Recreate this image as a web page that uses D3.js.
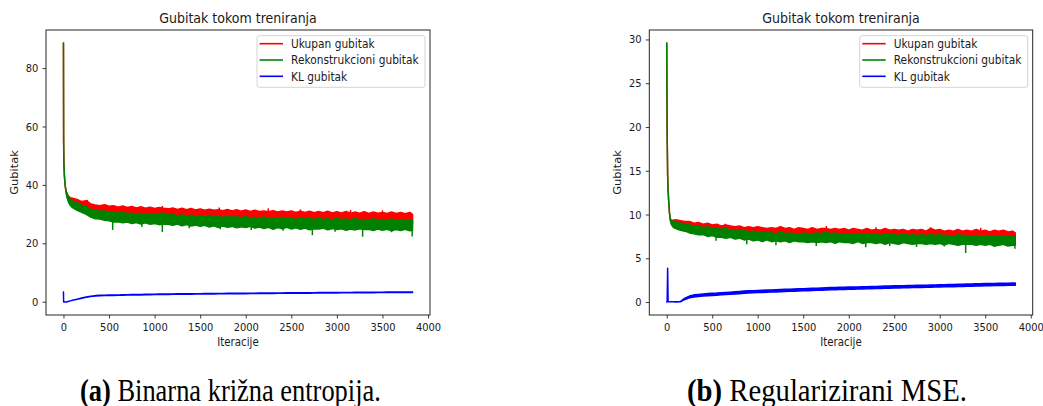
<!DOCTYPE html>
<html><head><meta charset="utf-8">
<script src="https://cdn.jsdelivr.net/npm/d3@7"></script>
<style>html,body{margin:0;padding:0;background:#fff}svg{display:block}</style>
</head><body><svg id="c" width="1043" height="406"></svg>
<script>
// ---------- DATA ----------
const iterations = [
 0, 2, 5, 10, 15, 20, 30, 40, 50, 60, 75,
 100, 150, 200, 250, 300, 350, 400, 450, 500, 550,
 600, 650, 700, 750, 800, 850, 900, 950, 1000, 1050,
 1100, 1150, 1200, 1250, 1300, 1350, 1400, 1450, 1500, 1550,
 1600, 1650, 1700, 1750, 1800, 1850, 1900, 1950, 2000, 2050,
 2100, 2150, 2200, 2250, 2300, 2350, 2400, 2450, 2500, 2550,
 2600, 2650, 2700, 2750, 2800, 2850, 2900, 2950, 3000, 3050,
 3100, 3150, 3200, 3250, 3300, 3350, 3400, 3450, 3500, 3550,
 3600, 3650, 3700, 3750, 3800, 3830
];
const xTicks = [0, 500, 1000, 1500, 2000, 2500, 3000, 3500, 4000];
const bceYTicks = [0, 20, 40, 60, 80];
const mseYTicks = [0, 5, 10, 15, 20, 25, 30];
const seriesNames = ["Ukupan gubitak", "Rekonstrukcioni gubitak", "KL gubitak"];
const chartTitle = "Gubitak tokom treniranja";
const xLabel = "Iteracije";
const yLabel = "Gubitak";
const captions = [["(a)", " Binarna križna entropija."], ["(b)", " Regularizirani MSE."]];

// (a) binary cross-entropy: per-window max / min of each noisy series
const bceTotalMax = [
 88.6, 55, 47.5, 43.5, 41, 39.5, 37.8, 37.0, 36.4, 36.0, 35.6,
 35.4, 35.0, 34.3, 34.6, 33.5, 33.1, 32.9, 33.2, 32.7, 32.9,
 32.4, 32.8, 32.3, 32.6, 32.1, 32.5, 32.0, 32.4, 31.9, 32.3,
 32.0, 31.8, 32.1, 31.6, 32.0, 31.5, 31.9, 31.4, 31.8, 31.3,
 31.7, 31.3, 31.5, 31.2, 31.6, 31.1, 31.5, 31.0, 31.4, 30.9,
 31.3, 30.9, 31.1, 30.8, 31.2, 30.7, 31.1, 30.7, 31.1, 30.6,
 31.0, 30.6, 31.0, 30.5, 30.9, 30.5, 31.0, 30.4, 30.8, 30.4,
 30.9, 30.3, 30.7, 30.3, 30.8, 30.2, 30.7, 30.3, 30.6, 30.2,
 30.7, 30.2, 30.6, 30.1, 30.6, 29.9
];
const bceTotalMin = [
 88.6, 55, 47.5, 43.5, 41, 39.5, 37.5, 36.0, 35.2, 34.6, 34.0,
 33.5, 33.0, 32.3, 31.8, 31.0, 30.6, 30.4, 30.2, 30.0, 29.9,
 29.8, 29.7, 29.6, 29.5, 29.4, 29.4, 29.3, 29.2, 29.2, 29.1,
 29.0, 29.0, 28.9, 28.8, 28.8, 28.7, 28.7, 28.6, 28.6, 28.5,
 28.5, 28.4, 28.4, 28.3, 28.3, 28.2, 28.2, 28.1, 28.1, 28.0,
 28.0, 27.9, 27.9, 27.8, 27.8, 27.7, 27.7, 27.7, 27.6, 27.6,
 27.6, 27.5, 27.5, 27.4, 27.4, 27.4, 27.3, 27.3, 27.3, 27.2,
 27.2, 27.2, 27.1, 27.1, 27.1, 27.0, 27.0, 27.0, 26.9, 26.9,
 26.9, 26.8, 26.8, 26.8, 26.7, 26.7
];
const bceReconMax = [
 88.6, 55, 47.5, 43.5, 41, 39.5, 37.8, 36.8, 36.2, 35.6, 35.0,
 34.4, 33.9, 33.0, 32.6, 31.6, 31.4, 30.9, 31.2, 30.5, 30.7,
 30.3, 30.8, 30.1, 30.4, 29.9, 30.3, 29.8, 30.2, 29.7, 30.1,
 30.4, 29.6, 29.9, 29.4, 29.8, 29.3, 29.6, 29.2, 29.5, 29.1,
 29.6, 29.0, 29.3, 28.8, 29.4, 28.9, 29.1, 28.7, 29.2, 28.6,
 28.9, 28.5, 29.0, 28.4, 28.8, 28.3, 28.9, 28.4, 28.6, 28.2,
 28.7, 28.3, 28.5, 28.1, 28.7, 28.2, 28.4, 28.0, 28.6, 28.1,
 28.3, 27.9, 28.5, 28.0, 28.2, 27.8, 28.4, 27.9, 28.2, 27.8,
 28.3, 27.9, 28.1, 27.7, 28.2, 27.9
];
const bceReconMin = [
 88.6, 55, 47.5, 43.5, 41, 39.5, 37.2, 35.6, 34.6, 33.8, 33.0,
 32.2, 31.3, 30.6, 29.9, 29.0, 28.4, 28.3, 27.9, 27.7, 27.3,
 27.4, 27.0, 27.3, 26.8, 27.1, 26.6, 27.0, 26.5, 26.8, 26.4,
 26.6, 26.5, 26.2, 26.6, 26.0, 26.4, 25.9, 26.3, 25.8, 26.2,
 25.6, 26.0, 25.4, 25.9, 25.5, 25.8, 25.3, 25.7, 25.4, 25.8,
 25.2, 25.6, 25.1, 25.5, 24.8, 25.4, 25.0, 25.5, 24.9, 25.3,
 24.8, 25.2, 24.6, 25.0, 24.9, 25.2, 24.6, 25.1, 24.7, 25.0,
 24.5, 24.9, 24.6, 25.0, 24.7, 24.8, 24.4, 24.9, 24.5, 24.8,
 24.3, 24.7, 24.4, 24.8, 24.3, 24.5
];
// isolated single-iteration spikes: [iteration, value]
const bceTotalSpikes = [[262, 34.9], [1085, 32.8], [1709, 32.3], [2247, 32.0], [2600, 31.6], [3150, 31.4], [3500, 31.3]];
const bceReconSpikes = [[540, 24.6], [860, 25.6], [1085, 23.9], [1380, 25.2], [1720, 24.8], [2060, 24.6],
  [2410, 24.3], [2731, 22.8], [2980, 24.0], [3282, 22.3], [3600, 23.8], [3826, 22.3]];
const bceKlMax = [
 3.3, -0.1, -0.1, -0.1, -0.1, -0.1, -0.1, 0.0, 0.05, 0.15, 0.3,
 0.55, 0.9, 1.25, 1.6, 1.9, 2.1, 2.2, 2.25, 2.3, 2.33,
 2.35, 2.4, 2.42, 2.45, 2.5, 2.5, 2.55, 2.57, 2.6, 2.62,
 2.65, 2.65, 2.68, 2.7, 2.72, 2.73, 2.75, 2.77, 2.78, 2.8,
 2.81, 2.83, 2.85, 2.86, 2.87, 2.89, 2.9, 2.91, 2.93, 2.95,
 2.95, 2.97, 2.98, 3.0, 3.01, 3.02, 3.03, 3.05, 3.05, 3.07,
 3.08, 3.1, 3.1, 3.12, 3.13, 3.15, 3.15, 3.17, 3.18, 3.19,
 3.2, 3.21, 3.22, 3.23, 3.25, 3.25, 3.27, 3.28, 3.29, 3.3,
 3.31, 3.32, 3.33, 3.35, 3.35, 3.35
];
const bceKlMin = [
 3.3, -0.1, -0.1, -0.1, -0.1, -0.1, -0.1, 0.0, 0.05, 0.15, 0.3,
 0.5, 0.85, 1.2, 1.5, 1.8, 2.0, 2.08, 2.12, 2.15, 2.18,
 2.2, 2.25, 2.27, 2.3, 2.34, 2.35, 2.4, 2.42, 2.45, 2.47,
 2.5, 2.5, 2.53, 2.55, 2.57, 2.58, 2.6, 2.62, 2.63, 2.65,
 2.66, 2.68, 2.7, 2.71, 2.72, 2.74, 2.75, 2.76, 2.78, 2.8,
 2.8, 2.82, 2.83, 2.85, 2.86, 2.87, 2.88, 2.9, 2.9, 2.92,
 2.93, 2.95, 2.95, 2.97, 2.98, 3.0, 3.0, 3.02, 3.03, 3.04,
 3.05, 3.06, 3.07, 3.08, 3.1, 3.1, 3.12, 3.13, 3.14, 3.15,
 3.16, 3.17, 3.18, 3.2, 3.2, 3.2
];

// (b) regularised MSE
const mseTotalMax = [
 29.6, 25.0, 19.0, 14.5, 12.8, 11.8, 10.2, 9.5, 9.35, 9.35, 9.35,
 9.4, 9.3, 9.2, 9.2, 9.0, 9.1, 8.9, 9.0, 8.8, 8.9,
 8.7, 8.8, 8.7, 8.6, 8.7, 8.5, 8.6, 8.5, 8.6, 8.5,
 8.4, 8.5, 8.4, 8.6, 8.4, 8.5, 8.3, 8.5, 8.4, 8.3,
 8.5, 8.3, 8.4, 8.4, 8.3, 8.4, 8.3, 8.4, 8.2, 8.4,
 8.3, 8.2, 8.4, 8.2, 8.3, 8.2, 8.4, 8.2, 8.3, 8.2,
 8.3, 8.1, 8.3, 8.2, 8.3, 8.1, 8.4, 8.2, 8.3, 8.1,
 8.2, 8.1, 8.3, 8.1, 8.2, 8.1, 8.3, 8.1, 8.2, 8.0,
 8.2, 8.1, 8.2, 8.0, 8.1, 7.9
];
const mseTotalMin = [
 29.6, 25.0, 19.0, 14.5, 12.8, 11.8, 10.2, 9.4, 9.0, 8.9, 8.8,
 8.8, 8.6, 8.5, 8.4, 8.3, 8.2, 8.2, 8.1, 8.0, 8.0,
 7.9, 7.9, 7.8, 7.8, 7.7, 7.7, 7.7, 7.6, 7.6, 7.6,
 7.5, 7.5, 7.5, 7.5, 7.4, 7.4, 7.4, 7.4, 7.4, 7.3,
 7.3, 7.3, 7.3, 7.3, 7.2, 7.3, 7.2, 7.2, 7.2, 7.2,
 7.2, 7.2, 7.1, 7.2, 7.1, 7.1, 7.1, 7.1, 7.1, 7.1,
 7.1, 7.0, 7.1, 7.0, 7.1, 7.0, 7.0, 7.0, 7.0, 7.0,
 7.0, 7.0, 6.9, 7.0, 6.9, 6.9, 7.0, 6.9, 6.9, 6.9,
 6.9, 6.9, 6.9, 6.8, 6.9, 6.8
];
const mseReconMax = [
 29.6, 25.0, 19.0, 14.5, 12.8, 11.8, 10.2, 9.5, 9.3, 9.25, 9.2,
 9.2, 9.0, 8.9, 8.8, 8.6, 8.7, 8.5, 8.6, 8.4, 8.5,
 8.3, 8.4, 8.2, 8.3, 8.1, 8.2, 8.0, 8.1, 8.0, 7.9,
 8.0, 7.9, 7.8, 8.0, 7.8, 7.9, 7.8, 7.7, 7.9, 7.8,
 7.8, 7.9, 7.8, 8.0, 7.8, 7.9, 7.7, 7.8, 7.8, 7.7,
 7.8, 7.7, 7.8, 7.7, 7.8, 7.6, 7.8, 7.7, 7.7, 7.6,
 7.8, 7.6, 7.7, 7.6, 7.7, 7.6, 7.7, 7.6, 7.7, 7.6,
 7.6, 7.5, 7.7, 7.6, 7.6, 7.5, 7.6, 7.5, 7.6, 7.5,
 7.6, 7.5, 7.6, 7.5, 7.5, 7.4
];
const mseReconMin = [
 29.6, 25.0, 19.0, 14.5, 12.8, 11.8, 10.2, 9.3, 8.9, 8.7, 8.5,
 8.4, 8.2, 8.1, 7.9, 7.8, 7.7, 7.7, 7.5, 7.6, 7.4,
 7.4, 7.3, 7.4, 7.2, 7.3, 7.1, 7.2, 7.0, 7.1, 6.9,
 7.1, 6.9, 7.0, 6.9, 7.0, 6.8, 7.0, 6.9, 6.9, 6.8,
 6.9, 6.8, 6.9, 6.8, 6.9, 6.7, 6.9, 6.8, 6.8, 6.7,
 6.9, 6.7, 6.8, 6.8, 6.7, 6.8, 6.6, 6.8, 6.7, 6.6,
 6.8, 6.7, 6.6, 6.7, 6.7, 6.6, 6.7, 6.6, 6.7, 6.5,
 6.7, 6.6, 6.5, 6.6, 6.6, 6.6, 6.5, 6.6, 6.5, 6.6,
 6.4, 6.5, 6.6, 6.4, 6.5, 6.5
];
const mseTotalSpikes = [[640, 8.95], [1754, 8.7], [2300, 8.55], [2900, 8.55], [3450, 8.5]];
const mseReconSpikes = [[543, 7.0], [880, 6.6], [1200, 6.5], [1643, 6.4], [2187, 6.25], [2450, 6.4],
  [2745, 6.3], [3050, 6.35], [3285, 5.6], [3600, 6.3], [3826, 6.1]];
const mseKlMax = [
 0.0, 0.02, 0.02, 3.85, 0.02, 0.02, 0.02, 0.02, 0.02, 0.02, 0.02,
 0.03, 0.06, 0.45, 0.68, 0.82, 0.87, 0.93, 0.97, 1.01, 1.03,
 1.07, 1.1, 1.13, 1.17, 1.21, 1.25, 1.28, 1.3, 1.33, 1.35,
 1.37, 1.39, 1.41, 1.43, 1.45, 1.47, 1.49, 1.51, 1.53, 1.55,
 1.57, 1.59, 1.61, 1.63, 1.65, 1.66, 1.68, 1.69, 1.71, 1.72,
 1.73, 1.75, 1.76, 1.77, 1.79, 1.8, 1.82, 1.83, 1.85, 1.86,
 1.87, 1.88, 1.9, 1.91, 1.92, 1.93, 1.95, 1.96, 1.97, 1.99,
 2.0, 2.01, 2.03, 2.04, 2.05, 2.06, 2.08, 2.09, 2.11, 2.12,
 2.13, 2.14, 2.15, 2.16, 2.17, 2.18
];
const mseKlMin = [
 0.0, 0.02, 0.02, 3.85, 0.02, 0.02, 0.02, 0.02, 0.02, 0.02, 0.02,
 0.01, 0.03, 0.3, 0.48, 0.58, 0.62, 0.68, 0.72, 0.76, 0.78,
 0.82, 0.85, 0.88, 0.92, 0.96, 1.0, 1.03, 1.05, 1.08, 1.1,
 1.12, 1.14, 1.16, 1.18, 1.2, 1.22, 1.24, 1.26, 1.28, 1.3,
 1.32, 1.34, 1.36, 1.38, 1.4, 1.41, 1.43, 1.44, 1.46, 1.47,
 1.48, 1.5, 1.51, 1.52, 1.54, 1.55, 1.57, 1.58, 1.6, 1.61,
 1.62, 1.63, 1.65, 1.66, 1.67, 1.68, 1.7, 1.71, 1.72, 1.74,
 1.75, 1.76, 1.78, 1.79, 1.8, 1.81, 1.83, 1.84, 1.86, 1.87,
 1.88, 1.89, 1.9, 1.91, 1.92, 1.93
];

// ---------- RENDER ----------
const W = 1043, H = 406, SX = 0.9;
const FONT = "DejaVu Sans";
const colors = ["#ff0000", "#008000", "#0000ff"];
const svg = d3.select("#c");
svg.append("rect").attr("width", W).attr("height", H).attr("fill", "#fff");

const panels = [
  { id: "a", x0: 46, x1: 430, yTicks: bceYTicks, ylabX: 18.3,
    series: [[bceTotalMax, bceTotalMin], [bceReconMax, bceReconMin], [bceKlMax, bceKlMin]],
    spikes: [bceTotalSpikes, bceReconSpikes, []],
    cap: captions[0], capX0: 80, capX1: 381 },
  { id: "b", x0: 649.3, x1: 1032.7, yTicks: mseYTicks, ylabX: 621.3,
    series: [[mseTotalMax, mseTotalMin], [mseReconMax, mseReconMin], [mseKlMax, mseKlMin]],
    spikes: [mseTotalSpikes, mseReconSpikes, []],
    cap: captions[1], capX0: 687, capX1: 967 }
];
const Y0 = 30, Y1 = 315;
const padExt = ([a, b]) => { const m = (b - a) * 0.05; return [a - m, b + m]; };

function txt(g, x, y, s, o = {}) {
  return g.append("text")
    .attr("transform", `translate(${x},${y}) rotate(${o.rot || 0}) scale(${o.rot ? 1 : SX},${o.rot ? SX : 1})`)
    .attr("font-family", o.family || FONT).attr("font-size", o.size || 11)
    .attr("text-anchor", o.anchor || "middle").attr("fill", o.fill || "#1a1a1a")
    .text(s);
}
// value of a band edge at an arbitrary iteration (for anchoring spikes)
function edgeAt(arr, it) {
  const i = Math.max(1, d3.bisectLeft(iterations, it));
  const a = iterations[i - 1], b = iterations[Math.min(i, iterations.length - 1)];
  const t = b === a ? 0 : (it - a) / (b - a);
  return arr[i - 1] + (arr[Math.min(i, arr.length - 1)] - arr[i - 1]) * t;
}

panels.forEach(p => {
  const g = svg.append("g");
  const x = d3.scaleLinear().domain(padExt(d3.extent(iterations))).range([p.x0, p.x1]);
  const allVals = p.series.flat(2).concat(p.spikes.flat().map(d => d[1]));
  const y = d3.scaleLinear().domain(padExt(d3.extent(allVals))).range([Y1, Y0]);

  const clipId = "clip-" + p.id;
  g.append("clipPath").attr("id", clipId).append("rect")
    .attr("x", p.x0).attr("y", Y0).attr("width", p.x1 - p.x0).attr("height", Y1 - Y0);

  const plot = g.append("g").attr("clip-path", `url(#${clipId})`);
  p.series.forEach(([mx, mn], si) => {
    const rows = iterations.map((it, i) => ({ it, hi: mx[i], lo: mn[i] }));
    const area = d3.area().x(d => x(d.it)).y0(d => y(d.lo)).y1(d => y(d.hi));
    plot.append("path").datum(rows).attr("d", area)
      .attr("fill", colors[si]).attr("stroke", colors[si])
      .attr("stroke-width", 1.5).attr("stroke-linejoin", "round");
    plot.selectAll(null).data(p.spikes[si]).join("line")
      .attr("x1", d => x(d[0])).attr("x2", d => x(d[0]))
      .attr("y1", d => y(d[1] > edgeAt(mx, d[0]) ? edgeAt(mx, d[0]) : edgeAt(mn, d[0])))
      .attr("y2", d => y(d[1]))
      .attr("stroke", colors[si]).attr("stroke-width", 1.5);
  });

  // frame
  g.append("rect").attr("x", p.x0).attr("y", Y0).attr("width", p.x1 - p.x0).attr("height", Y1 - Y0)
    .attr("fill", "none").attr("stroke", "#262626").attr("stroke-width", 1);

  // axes
  const gx = g.append("g").attr("transform", `translate(0,${Y1})`)
    .call(d3.axisBottom(x).tickValues(xTicks).tickSize(3.5).tickPadding(5).tickFormat(d3.format("d")));
  gx.select(".domain").remove();
  gx.selectAll("line").attr("stroke", "#262626").attr("stroke-width", 0.9);
  gx.selectAll("text").attr("font-family", FONT).attr("font-size", 11).attr("fill", "#1a1a1a")
    .attr("transform", `scale(${SX},1)`);

  const gy = g.append("g").attr("transform", `translate(${p.x0},0)`)
    .call(d3.axisLeft(y).tickValues(p.yTicks).tickSize(3.5).tickPadding(4.2).tickFormat(d3.format("d")));
  gy.select(".domain").remove();
  gy.selectAll("line").attr("stroke", "#262626").attr("stroke-width", 0.9);
  gy.selectAll("text").attr("font-family", FONT).attr("font-size", 11).attr("fill", "#1a1a1a")
    .attr("x", -7.7 / SX).attr("transform", `scale(${SX},1)`);

  const cx = (p.x0 + p.x1) / 2;
  txt(g, cx, 23, chartTitle, { size: 14 });
  txt(g, cx, 346, xLabel, { size: 11.4 });
  txt(g, p.ylabX, (Y0 + Y1) / 2, yLabel, { size: 11.4, rot: -90 });

  // legend
  const lw = 168, lh = 51.6;
  const lx = p.x1 - 5 - lw, ly = 35.7;
  const lg = g.append("g");
  lg.append("rect").attr("x", lx).attr("y", ly).attr("width", lw).attr("height", lh)
    .attr("rx", 2.5).attr("fill", "#fff").attr("fill-opacity", 0.8)
    .attr("stroke", "#d4d4d4").attr("stroke-width", 1);
  seriesNames.forEach((name, i) => {
    const yy = ly + 8 + i * 16.3;
    lg.append("line").attr("x1", lx + 2.6).attr("x2", lx + 26).attr("y1", yy).attr("y2", yy)
      .attr("stroke", colors[i]).attr("stroke-width", 1.6);
    txt(lg, lx + 34, yy + 4.2, name, { size: 11.8, anchor: "start" });
  });

  // caption
  const ct = svg.append("text").attr("font-family", "Liberation Serif").attr("font-size", 31)
    .attr("fill", "#000");
  ct.append("tspan").attr("font-weight", "bold").text(p.cap[0]);
  ct.append("tspan").text(p.cap[1]);
  const nat = ct.node().getComputedTextLength();
  const k = (p.capX1 - p.capX0) / nat;
  ct.attr("transform", `translate(${p.capX0},401) scale(${k},1)`);
});
</script>
</body></html>
